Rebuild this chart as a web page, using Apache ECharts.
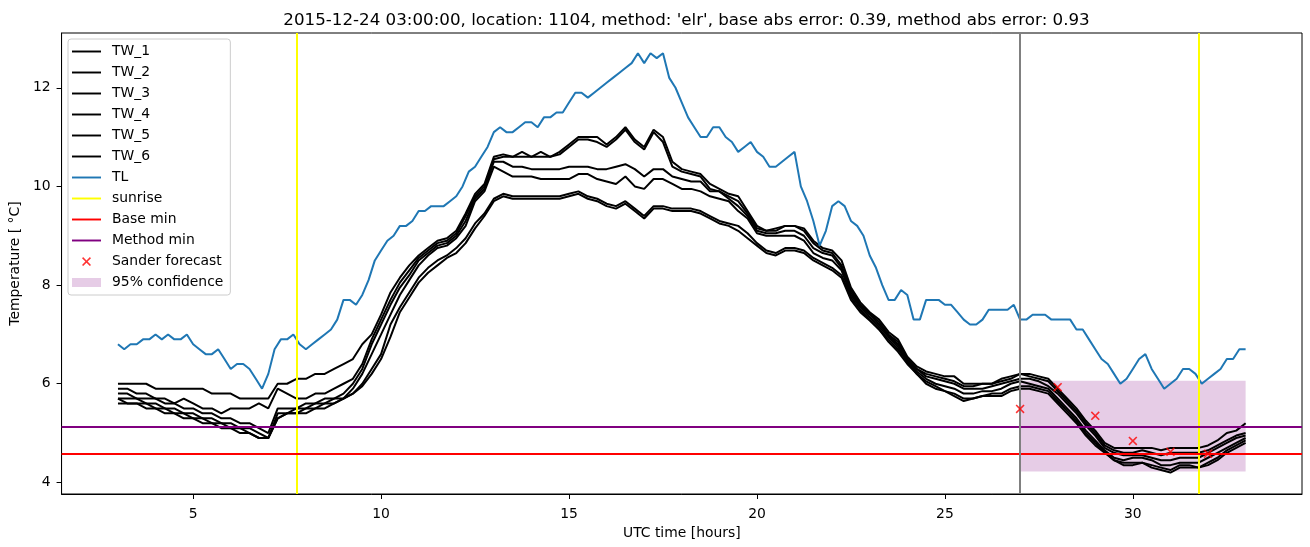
<!DOCTYPE html>
<html>
<head>
<meta charset="utf-8">
<script src="https://cdn.jsdelivr.net/npm/echarts@6/dist/echarts.min.js"></script>
<style>html,body{margin:0;padding:0;background:#fff}#chart{width:1310px;height:547px}</style>
</head>
<body>
<div id="chart"></div>
<script>
// ---- data ----
// air temperature TL, every 10 minutes from 03:00 (hour 3) to hour 33
const tl = [
  6.8,6.7,6.8,6.8,6.9,6.9,
  7.0,6.9,7.0,6.9,6.9,7.0,
  6.8,6.7,6.6,6.6,6.7,6.5,
  6.3,6.4,6.4,6.3,6.1,5.9,
  6.2,6.7,6.9,6.9,7.0,6.8,
  6.7,6.8,6.9,7.0,7.1,7.3,
  7.7,7.7,7.6,7.8,8.1,8.5,
  8.7,8.9,9.0,9.2,9.2,9.3,
  9.5,9.5,9.6,9.6,9.6,9.7,
  9.8,10.0,10.3,10.4,10.6,10.8,
  11.1,11.2,11.1,11.1,11.2,11.3,
  11.3,11.2,11.4,11.4,11.5,11.5,
  11.7,11.9,11.9,11.8,11.9,12.0,
  12.1,12.2,12.3,12.4,12.5,12.7,
  12.5,12.7,12.6,12.7,12.2,12.0,
  11.7,11.4,11.2,11.0,11.0,11.2,
  11.2,11.0,10.9,10.7,10.8,10.9,
  10.7,10.6,10.4,10.4,10.5,10.6,
  10.7,10.0,9.7,9.3,8.8,9.1,
  9.6,9.7,9.6,9.3,9.2,9.0,
  8.6,8.35,8.0,7.7,7.7,7.9,
  7.8,7.3,7.3,7.7,7.7,7.7,
  7.6,7.6,7.45,7.3,7.2,7.2,
  7.3,7.5,7.5,7.5,7.5,7.6,
  7.3,7.3,7.4,7.4,7.4,7.3,
  7.3,7.3,7.3,7.1,7.1,6.9,
  6.7,6.5,6.4,6.2,6.0,6.1,
  6.3,6.5,6.6,6.3,6.1,5.9,
  6.0,6.1,6.3,6.3,6.2,6.0,
  6.1,6.2,6.3,6.5,6.5,6.7,
  6.7
];
const tlStartHour = 3, tlStepHours = 1 / 6;

// TW_1 ... TW_6, every 15 minutes from hour 3 to hour 33
const tw1 = [
  6.0,6.0,6.0,6.0, 5.9,5.9,5.9,5.9, 5.9,5.9,5.8,5.8, 5.8,5.7,5.7,5.7,
  5.7,6.0,6.0,6.1, 6.1,6.2,6.2,6.3, 6.4,6.5,6.8,7.0, 7.4,7.85,8.15,8.4,
  8.6,8.75,8.9,8.95, 9.1,9.45,9.85,10.05, 10.6,10.65,10.6,10.7, 10.6,10.7,10.6,10.7,
  10.85,11.0,11.0,11.0, 10.85,11.0,11.2,10.95, 10.8,11.15,11.0,10.5, 10.35,10.3,10.25,10.05,
  9.95,9.85,9.8,9.5, 9.2,9.1,9.15,9.2, 9.2,9.15,8.9,8.75, 8.7,8.5,7.95,7.65,
  7.45,7.3,7.05,6.9, 6.55,6.35,6.25,6.2, 6.15,6.15,6.0,6.0, 6.0,6.0,6.1,6.15,
  6.2,6.2,6.15,6.1, 5.9,5.7,5.5,5.25, 5.05,4.8,4.7,4.7, 4.7,4.7,4.7,4.65,
  4.7,4.7,4.7,4.7, 4.75,4.85,5.0,5.05, 5.2
];
const tw2 = [
  5.9,5.9,5.8,5.8, 5.7,5.7,5.6,5.7, 5.6,5.5,5.5,5.4, 5.5,5.5,5.5,5.6,
  5.5,5.9,5.8,5.7, 5.7,5.8,5.8,5.9, 6.0,6.1,6.4,6.9, 7.3,7.7,8.05,8.3,
  8.55,8.7,8.85,8.9, 9.05,9.4,9.8,10.0, 10.55,10.6,10.6,10.6, 10.6,10.6,10.6,10.65,
  10.8,10.95,10.95,10.9, 10.8,10.95,11.15,10.9, 10.75,11.1,10.9,10.4, 10.3,10.25,10.2,9.95,
  9.9,9.8,9.7,9.45, 9.15,9.1,9.1,9.2, 9.2,9.1,8.85,8.7, 8.65,8.4,7.9,7.6,
  7.42,7.25,7.0,6.85, 6.5,6.3,6.2,6.15, 6.1,6.05,5.95,5.95, 6.0,6.0,6.05,6.1,
  6.2,6.15,6.1,6.05, 5.85,5.65,5.45,5.2, 5.0,4.75,4.65,4.6, 4.6,4.65,4.6,4.55,
  4.6,4.6,4.6,4.6, 4.65,4.75,4.85,4.95, 5.0
];
const tw3 = [
  5.8,5.8,5.7,5.7, 5.7,5.6,5.6,5.5, 5.5,5.4,5.4,5.3, 5.3,5.2,5.2,5.1,
  5.0,5.5,5.5,5.5, 5.6,5.6,5.7,5.7, 5.8,6.0,6.3,6.8, 7.2,7.6,7.95,8.2,
  8.5,8.65,8.8,8.85, 9.0,9.3,9.75,9.95, 10.5,10.5,10.4,10.4, 10.35,10.35,10.35,10.35,
  10.4,10.4,10.4,10.35, 10.35,10.4,10.45,10.35, 10.2,10.35,10.35,10.2, 10.15,10.1,10.1,9.9,
  9.9,9.75,9.6,9.4, 9.1,9.05,9.05,9.1, 9.1,9.0,8.75,8.65, 8.6,8.35,7.85,7.58,
  7.4,7.2,6.98,6.8, 6.5,6.3,6.15,6.1, 6.05,6.0,5.9,5.9, 5.9,5.95,6.0,6.05,
  6.1,6.1,6.05,5.95, 5.8,5.6,5.4,5.15, 4.95,4.7,4.6,4.55, 4.55,4.55,4.5,4.45,
  4.45,4.5,4.5,4.5, 4.6,4.7,4.8,4.9, 4.95
];
const tw4 = [
  5.7,5.7,5.7,5.6, 5.6,5.5,5.5,5.4, 5.4,5.3,5.3,5.2, 5.2,5.1,5.1,5.0,
  4.9,5.4,5.4,5.5, 5.5,5.6,5.6,5.7, 5.7,5.9,6.2,6.6, 7.0,7.4,7.8,8.1,
  8.4,8.6,8.75,8.8, 8.95,9.2,9.7,9.9, 10.4,10.3,10.2,10.2, 10.2,10.15,10.15,10.15,
  10.15,10.25,10.25,10.15, 10.1,10.05,10.2,10.0, 9.95,10.15,10.15,10.05, 9.95,9.95,9.9,9.8,
  9.75,9.7,9.5,9.35, 9.05,9.0,9.0,9.0, 9.0,8.9,8.65,8.55, 8.5,8.3,7.8,7.55,
  7.35,7.15,6.95,6.75, 6.45,6.25,6.1,6.0, 5.95,5.9,5.8,5.8, 5.85,5.85,5.9,6.0,
  6.05,6.0,5.95,5.9, 5.7,5.5,5.3,5.05, 4.85,4.65,4.5,4.45, 4.5,4.5,4.45,4.35,
  4.35,4.4,4.4,4.4, 4.5,4.6,4.7,4.8, 4.9
];
const tw5 = [
  5.7,5.6,5.6,5.6, 5.5,5.5,5.4,5.4, 5.3,5.3,5.2,5.2, 5.1,5.1,5.0,4.9,
  4.9,5.3,5.4,5.4, 5.5,5.5,5.6,5.6, 5.7,5.8,6.0,6.3, 6.6,7.2,7.55,7.85,
  8.15,8.35,8.5,8.6, 8.75,8.95,9.25,9.45, 9.75,9.85,9.8,9.8, 9.8,9.8,9.8,9.8,
  9.85,9.9,9.8,9.75, 9.65,9.6,9.7,9.55, 9.4,9.6,9.6,9.55, 9.55,9.55,9.5,9.4,
  9.3,9.25,9.2,9.05, 8.85,8.7,8.65,8.75, 8.75,8.7,8.55,8.45, 8.35,8.2,7.75,7.5,
  7.3,7.1,6.9,6.7, 6.45,6.2,6.05,5.95, 5.85,5.8,5.7,5.7, 5.75,5.8,5.8,5.9,
  5.95,5.95,5.9,5.85, 5.65,5.45,5.25,5.0, 4.8,4.62,4.45,4.4, 4.4,4.4,4.35,4.3,
  4.25,4.35,4.35,4.3, 4.4,4.5,4.65,4.75, 4.85
];
const tw6 = [
  5.6,5.6,5.6,5.5, 5.5,5.4,5.4,5.3, 5.3,5.2,5.2,5.1, 5.1,5.0,5.0,4.9,
  4.9,5.3,5.4,5.4, 5.4,5.5,5.5,5.6, 5.7,5.8,5.95,6.2, 6.5,6.95,7.45,7.75,
  8.05,8.25,8.4,8.55, 8.65,8.85,9.15,9.4, 9.7,9.8,9.75,9.75, 9.75,9.75,9.75,9.75,
  9.8,9.85,9.75,9.7, 9.6,9.55,9.65,9.5, 9.35,9.55,9.55,9.5, 9.5,9.5,9.45,9.35,
  9.25,9.2,9.1,8.95, 8.8,8.65,8.6,8.7, 8.7,8.65,8.5,8.4, 8.3,8.15,7.7,7.45,
  7.28,7.1,6.85,6.65, 6.4,6.2,6.0,5.9, 5.85,5.75,5.65,5.7, 5.75,5.75,5.75,5.85,
  5.9,5.9,5.85,5.8, 5.6,5.4,5.2,4.95, 4.75,4.6,4.45,4.35, 4.35,4.4,4.3,4.25,
  4.2,4.3,4.3,4.3, 4.35,4.45,4.6,4.7, 4.8
];
const twStartHour = 3, twStepHours = 0.25;
const twNames = ['TW_1', 'TW_2', 'TW_3', 'TW_4', 'TW_5', 'TW_6'];

const sanderHours = [27, 28, 29, 30, 31, 32];
const sanderTemps = [5.49, 5.93, 5.35, 4.84, 4.62, 4.58];

const sunriseHours = [7.75, 31.74];
const forecastStartHour = 27;
const baseMin = 4.59;
const methodMin = 5.13;
const confidenceHours = [27, 33];
const confidenceTemps = [4.22, 6.06];

const xTicks = [5, 10, 15, 20, 25, 30];
const yTicks = [4, 6, 8, 10, 12];

const titleText = "2015-12-24 03:00:00, location: 1104, method: 'elr', base abs error: 0.39, method abs error: 0.93";

// ---- chart ----
const FONT = 'DejaVu Sans';
const lineIcon = 'path://M0,0H30V2H0Z';
const xSymbol = 'path://M0,1L1,0L4,3L7,0L8,1L5,4L8,7L7,8L4,5L1,8L0,7L3,4Z';
const confColor = 'rgba(128,0,128,0.2)';

function pairs(times0, step, vals) { return vals.map((v, i) => [times0 + i * step, v]); }
function vline(name, color, list) {
  return {
    name: name, type: 'line', data: [], color: color, silent: true,
    markLine: {
      silent: true, animation: false, symbol: ['none', 'none'], label: { show: false },
      emphasis: { disabled: true },
      lineStyle: { color: color, width: 2, type: 'solid', opacity: 1 },
      data: list
    }
  };
}

const series = [];
series.push({
  name: '95% confidence', type: 'line', data: [], color: confColor, silent: true,
  markArea: {
    silent: true, animation: false, itemStyle: { color: confColor },
    emphasis: { disabled: true },
    data: [[{ xAxis: confidenceHours[0], yAxis: confidenceTemps[0] }, { xAxis: confidenceHours[1], yAxis: confidenceTemps[1] }]]
  }
});
[tw1, tw2, tw3, tw4, tw5, tw6].forEach((arr, k) => {
  series.push({
    name: twNames[k], type: 'line', data: pairs(twStartHour, twStepHours, arr),
    symbol: 'none', color: '#000000', silent: true,
    lineStyle: { color: '#000000', width: 2 }
  });
});
series.push({
  name: 'TL', type: 'line', data: pairs(tlStartHour, tlStepHours, tl),
  symbol: 'none', color: '#1f77b4', silent: true,
  lineStyle: { color: '#1f77b4', width: 2 }
});
series.push(vline('sunrise', '#ffff00', sunriseHours.map(h => ({ xAxis: h }))));
series.push(vline('Base min', '#ff0000', [{ yAxis: baseMin }]));
series.push(vline('Method min', '#800080', [{ yAxis: methodMin }]));
series.push(vline('forecast start', '#808080', [{ xAxis: forecastStartHour }]));
series.push({
  name: 'Sander forecast', type: 'scatter',
  data: sanderHours.map((h, i) => [h, sanderTemps[i]]),
  symbol: xSymbol, symbolSize: 9, silent: true, z: 5,
  itemStyle: { color: '#ff0000' }
});

function legendItem(name, icon, color) {
  return { name: name, icon: icon, itemStyle: { color: color, borderWidth: 0 } };
}
const legendData = twNames.map(n => legendItem(n, lineIcon, '#000000'))
  .concat([
    legendItem('TL', lineIcon, '#1f77b4'),
    legendItem('sunrise', lineIcon, '#ffff00'),
    legendItem('Base min', lineIcon, '#ff0000'),
    legendItem('Method min', lineIcon, '#800080'),
    legendItem('Sander forecast', xSymbol, '#ff0000'),
    legendItem('95% confidence', 'rect', confColor)
  ]);

const axisText = { fontFamily: FONT, fontSize: 13.9, color: '#000000' };

const chart = echarts.init(document.getElementById('chart'), null, { renderer: 'canvas' });
chart.setOption({
  animation: false,
  backgroundColor: '#ffffff',
  textStyle: { fontFamily: FONT },
  title: {
    text: titleText, left: 681.5, top: 7, textAlign: 'center',
    textStyle: { fontFamily: FONT, fontSize: 16.7, fontWeight: 'normal', color: '#000000' }
  },
  grid: { left: 61, right: 8, top: 33, bottom: 53, show: true, borderColor: '#000000', borderWidth: 1, backgroundColor: 'transparent', containLabel: false },
  legend: {
    orient: 'vertical', left: 68, top: 39,
    padding: [5.5, 7, 5.5, 4],
    itemWidth: 29, itemHeight: 9, itemGap: 7,
    symbolKeepAspect: true,
    backgroundColor: 'rgba(255,255,255,0.8)', borderColor: '#cccccc', borderWidth: 1, borderRadius: 3,
    selectedMode: false,
    textStyle: { fontFamily: FONT, fontSize: 13.9, color: '#000000', lineHeight: 14, padding: [0, 0, 0, 6] },
    data: legendData
  },
  xAxis: {
    type: 'value', min: 1.5, max: 34.5,
    name: 'UTC time [hours]', nameLocation: 'middle', nameGap: 28,
    nameTextStyle: axisText,
    axisLine: { show: true, lineStyle: { color: '#000000', width: 1 } },
    axisTick: { show: true, inside: false, length: 5, customValues: xTicks, lineStyle: { color: '#000000', width: 1 } },
    axisLabel: { show: true, customValues: xTicks, margin: 13, ...axisText },
    splitLine: { show: false }
  },
  yAxis: {
    type: 'value', min: 3.765, max: 13.11,
    name: 'Temperature [ \u00B0C]', nameLocation: 'middle', nameGap: 34, nameRotate: 90,
    nameTextStyle: axisText,
    axisLine: { show: true, lineStyle: { color: '#000000', width: 1 } },
    axisTick: { show: true, inside: false, length: 5, customValues: yTicks, lineStyle: { color: '#000000', width: 1 } },
    axisLabel: { show: true, customValues: yTicks, margin: 11, ...axisText },
    splitLine: { show: false }
  },
  series: series
});
</script>
</body>
</html>
